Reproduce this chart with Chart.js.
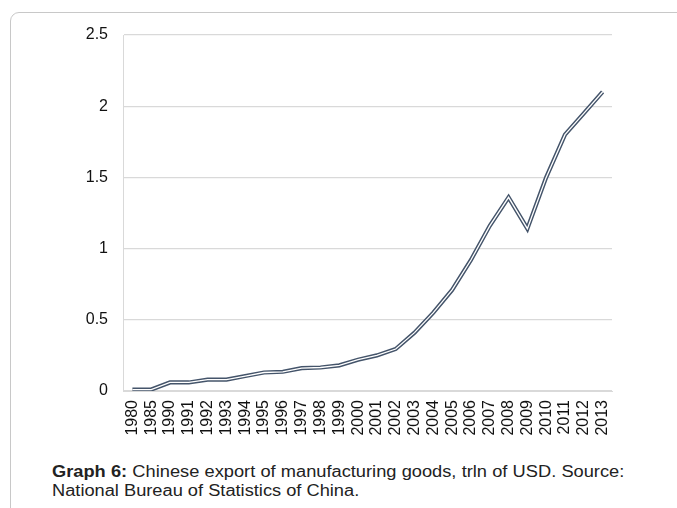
<!DOCTYPE html>
<html>
<head>
<meta charset="utf-8">
<script src="https://cdn.jsdelivr.net/npm/chart.js@4"></script>
<style>
body { margin:0; background:#fff; width:677px; height:508px; overflow:hidden; position:relative; font-family:"Liberation Sans", Arial, sans-serif; }
#frame { position:absolute; left:10px; top:12px; width:720px; height:540px; border:1px solid #c8c8c8; border-radius:9px; }
#box { position:absolute; left:0; top:0; width:677px; height:455px; }
#caption { position:absolute; left:52px; top:462px; width:502px; font-size:16px; line-height:19px; color:#222; transform:scaleX(1.14); transform-origin:left top; }
#caption .l1 { text-align:justify; text-align-last:justify; white-space:nowrap; }
</style>
</head>
<body>
<div id="frame"></div>
<div id="box"><canvas id="myChart"></canvas></div>
<div id="caption">
  <div class="l1"><b>Graph 6:</b> Chinese export of manufacturing goods, trln of USD. Source:</div>
  <div>National Bureau of Statistics of China.</div>
</div>
<script>
var anos = ['1980','1985','1990','1991','1992','1993','1994','1995','1996','1997','1998','1999','2000','2001','2002','2003','2004','2005','2006','2007','2008','2009','2010','2011','2012','2013'];
var exportacao = [0.01,0.01,0.06,0.06,0.08,0.08,0.105,0.13,0.135,0.16,0.165,0.18,0.22,0.25,0.295,0.41,0.55,0.71,0.92,1.16,1.36,1.14,1.5,1.8,1.95,2.1];
var ticksY = [0,0.5,1,1.5,2,2.5];

const ctx = document.getElementById('myChart').getContext('2d');
const myChart = new Chart(ctx, {
    type: 'line',
    data: {
        labels: anos,
        datasets: [{
            data: exportacao,
            borderColor: '#ffffff',
            borderWidth: 1.3,
            pointRadius: 0,
            tension: 0,
            order: 0
        },{
            data: exportacao,
            borderColor: '#44546a',
            borderWidth: 4.2,
            pointRadius: 0,
            tension: 0,
            order: 1
        }]
    },
    options: {
        responsive: true,
        maintainAspectRatio: false,
        animation: false,
        layout: { padding: { left: 63, right: 65, top: 35, bottom: 0 } },
        plugins: { legend: { display: false }, tooltip: { enabled: false } },
        scales: {
            x: {
                offset: true,
                grid: { display: false, drawTicks: false },
                border: { color: '#d9d9d9' },
                ticks: { color: '#111', font: { family: 'Liberation Sans', size: 16 }, maxRotation: 90, minRotation: 90, autoSkip: false, padding: 9 },
                afterFit: function(scale){ scale.height = 64; }
            },
            y: {
                min: 0,
                max: 2.5,
                afterBuildTicks: function(scale){ scale.ticks = ticksY.map(function(v){ return { value: v }; }); },
                grid: { color: '#d9d9d9', lineWidth: 1.3, drawTicks: false },
                border: { color: '#d9d9d9' },
                ticks: { color: '#111', font: { family: 'Liberation Sans', size: 16 }, padding: 15, callback: function(v){ return String(v); } },
                afterFit: function(scale){ scale.width = 60; }
            }
        }
    }
});
</script>
</body>
</html>
